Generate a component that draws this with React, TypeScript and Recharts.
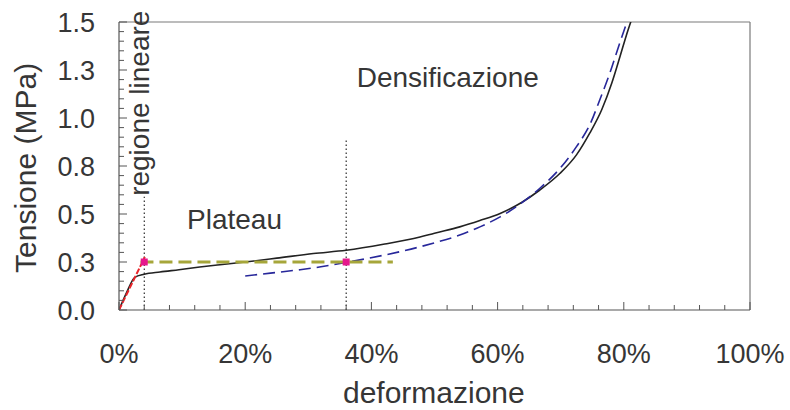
import React from 'react';
import {
  ComposedChart,
  Line,
  Scatter,
  XAxis,
  YAxis,
  ReferenceLine,
  ReferenceDot,
} from 'recharts';

// ---- data (x = deformazione in %, y = tensione in MPa) ----
const experimentalX = [0, 1.2, 2.5, 4, 6.5, 9.5, 12.8, 16, 20, 25, 30.8, 36, 41.9, 47.7, 50, 54, 57.2, 60.4, 63.8, 66.7, 69.9, 72.5, 74.6, 76.5, 78.1, 79.4, 80.4, 81.2];
const experimentalY = [0, 0.09, 0.17, 0.186, 0.198, 0.21, 0.224, 0.236, 0.25, 0.27, 0.294, 0.311, 0.342, 0.38, 0.4, 0.433, 0.466, 0.503, 0.56, 0.625, 0.712, 0.808, 0.921, 1.043, 1.182, 1.32, 1.43, 1.51];

const modelX = [20, 24, 28.7, 32, 36, 41.9, 47.2, 50, 54, 57.2, 60.4, 63.5, 66.7, 69.9, 72.5, 74.6, 76.2, 77.8, 79.1, 80.6];
const modelY = [0.177, 0.192, 0.21, 0.225, 0.248, 0.285, 0.325, 0.35, 0.39, 0.433, 0.485, 0.55, 0.634, 0.738, 0.851, 0.964, 1.095, 1.235, 1.365, 1.51];

const linearX = [0, 4.1];
const linearY = [0, 0.276];

const plateauX = [3.4, 43.4];
const plateauY = [0.25, 0.25];

const markerX = [4, 36];
const markerY = [0.25, 0.25];

const xTicks = [0, 4, 8, 12, 16, 20, 24, 28, 32, 36, 40, 44, 48, 52, 56, 60, 64, 68, 72, 76, 80, 84, 88, 92, 96, 100];
const xMajorTicks = [0, 20, 40, 60, 80, 100];
const xMajorLabels = ['0%', '20%', '40%', '60%', '80%', '100%'];

const yTicks = [0, 0.05, 0.1, 0.15, 0.2, 0.25, 0.3, 0.35, 0.4, 0.45, 0.5, 0.55, 0.6, 0.65, 0.7, 0.75, 0.8, 0.85, 0.9, 0.95, 1, 1.05, 1.1, 1.15, 1.2, 1.25, 1.3, 1.35, 1.4, 1.45, 1.5];
const yMajorTicks = [0, 0.25, 0.5, 0.75, 1, 1.25, 1.5];
const yMajorLabels = ['0.0', '0.3', '0.5', '0.8', '1.0', '1.3', '1.5'];

const zip = (xs: number[], ys: number[]) => xs.map((x, i) => ({ x, y: ys[i] }));

const experimentalData = zip(experimentalX, experimentalY);
const modelData = zip(modelX, modelY);
const linearData = zip(linearX, linearY);
const plateauData = zip(plateauX, plateauY);
const markerData = zip(markerX, markerY);

const FONT = '"Liberation Sans", Arial, Helvetica, sans-serif';
const TEXT_COLOR = '#363636';
const AXIS_COLOR = '#555555';
const TICK_FONT = 27;
const ANNOT_FONT = 28;
const TITLE_FONT = 30;

const findMajor = (majors: number[], v: number) =>
  majors.findIndex((m) => Math.abs(m - v) < 1e-6);

const XTick = (props: any) => {
  const { x, y, payload } = props;
  const idx = findMajor(xMajorTicks, payload.value);
  const len = idx >= 0 ? 8 : 5;
  return (
    <g>
      <line x1={x} x2={x} y1={y} y2={y - len} stroke={AXIS_COLOR} strokeWidth={1} />
      {idx >= 0 && (
        <text
          x={x}
          y={y + 53}
          textAnchor="middle"
          fontSize={TICK_FONT}
          fontFamily={FONT}
          fill={TEXT_COLOR}
        >
          {xMajorLabels[idx]}
        </text>
      )}
    </g>
  );
};

const YTick = (props: any) => {
  const { x, y, payload } = props;
  const idx = findMajor(yMajorTicks, payload.value);
  const len = idx >= 0 ? 8 : 5;
  return (
    <g>
      <line x1={x} x2={x + len} y1={y} y2={y} stroke={AXIS_COLOR} strokeWidth={1} />
      {idx >= 0 && (
        <text
          x={x - 24}
          y={y + 9.5}
          textAnchor="end"
          fontSize={TICK_FONT}
          fontFamily={FONT}
          fill={TEXT_COLOR}
        >
          {yMajorLabels[idx]}
        </text>
      )}
    </g>
  );
};

const SquareMarker = (props: any) => {
  const { cx, cy } = props;
  return <rect x={cx - 3.5} y={cy - 3.5} width={7} height={7} fill="#e6178c" />;
};

const textLabel = (value: string, size: number, angle = 0) => ({
  value,
  position: 'center' as const,
  angle,
  fontSize: size,
  fontFamily: FONT,
  fill: TEXT_COLOR,
});

export default function App() {
  return (
    <div style={{ position: 'absolute', left: 0, top: 0, width: 790, height: 410, background: '#fff' }}>
      <ComposedChart
        width={790}
        height={410}
        margin={{ top: 22, right: 40, bottom: 0, left: 0 }}
      >
        <XAxis
          type="number"
          dataKey="x"
          domain={[0, 100]}
          ticks={xTicks}
          interval={0}
          allowDataOverflow
          height={100}
          tickSize={0}
          tickMargin={0}
          tickLine={false}
          tick={<XTick />}
          axisLine={{ stroke: AXIS_COLOR, strokeWidth: 1.2 }}
        />
        <YAxis
          type="number"
          dataKey="y"
          domain={[0, 1.5]}
          ticks={yTicks}
          interval={0}
          allowDataOverflow
          width={119}
          tickSize={0}
          tickMargin={0}
          tickLine={false}
          tick={<YTick />}
          axisLine={{ stroke: AXIS_COLOR, strokeWidth: 1.2 }}
        />

        <ReferenceLine y={1.5} stroke="#7a7a7a" strokeWidth={1.2} />
        <ReferenceLine x={100} stroke="#7a7a7a" strokeWidth={1.2} />

        <ReferenceLine
          segment={[{ x: 4, y: 0 }, { x: 4, y: 0.59 }]}
          stroke="#000"
          strokeWidth={1}
          strokeDasharray="1.5 2.5"
        />
        <ReferenceLine
          segment={[{ x: 36, y: 0 }, { x: 36, y: 0.885 }]}
          stroke="#000"
          strokeWidth={1}
          strokeDasharray="1.5 2.5"
        />

        <Line
          data={experimentalData}
          dataKey="y"
          type="monotone"
          stroke="#222222"
          strokeWidth={1.6}
          dot={false}
          activeDot={false}
          isAnimationActive={false}
        />
        <Line
          data={modelData}
          dataKey="y"
          type="monotone"
          stroke="#27279a"
          strokeWidth={1.6}
          strokeDasharray="12 6"
          dot={false}
          activeDot={false}
          isAnimationActive={false}
        />
        <Line
          data={plateauData}
          dataKey="y"
          type="linear"
          stroke="#a6a63a"
          strokeWidth={3}
          strokeDasharray="13 6"
          dot={false}
          activeDot={false}
          isAnimationActive={false}
        />
        <Line
          data={linearData}
          dataKey="y"
          type="linear"
          stroke="#e8242a"
          strokeWidth={2}
          strokeDasharray="6 2"
          dot={false}
          activeDot={false}
          isAnimationActive={false}
        />
        <Scatter
          data={markerData}
          dataKey="y"
          shape={<SquareMarker />}
          isAnimationActive={false}
        />

        <ReferenceDot x={3.2} y={1.077} r={0} ifOverflow="visible" stroke="none" fill="none" label={textLabel('regione lineare', ANNOT_FONT, -90)} />
        <ReferenceDot x={18.3} y={0.473} r={0} ifOverflow="visible" stroke="none" fill="none" label={textLabel('Plateau', ANNOT_FONT)} />
        <ReferenceDot x={52.1} y={1.213} r={0} ifOverflow="visible" stroke="none" fill="none" label={textLabel('Densificazione', ANNOT_FONT)} />
        <ReferenceDot x={-14.8} y={0.74} r={0} ifOverflow="visible" stroke="none" fill="none" label={textLabel('Tensione (MPa)', TITLE_FONT, -90)} />
        <ReferenceDot x={49.9} y={-0.43} r={0} ifOverflow="visible" stroke="none" fill="none" label={textLabel('deformazione', TITLE_FONT)} />
      </ComposedChart>
    </div>
  );
}
